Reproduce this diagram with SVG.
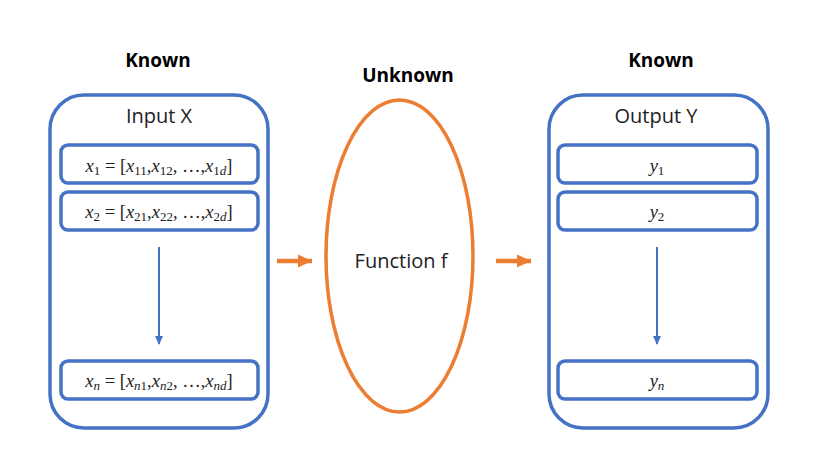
<svg xmlns="http://www.w3.org/2000/svg" width="819" height="458" viewBox="0 0 819 458">
<defs>
<style>
.big{fill:#fff;stroke:#4472C4;stroke-width:3.5}
.item{fill:#fff;stroke:#4472C4;stroke-width:3.5}
.hdr{font-family:"Open Sans","Noto Sans",sans-serif;font-weight:bold;font-size:19px;fill:#000;text-anchor:middle}
.lbl{font-family:"Open Sans","Noto Sans",sans-serif;font-size:20px;fill:#222;text-anchor:middle}
.m{font-family:"Liberation Serif","DejaVu Serif",serif;font-size:18.5px;fill:#222;text-anchor:middle}
.i{font-style:italic}
.s{font-size:13px}
.blue{stroke:#4472C4;stroke-width:2;fill:none}
.orange{stroke:#ED7D31;stroke-width:4.5;fill:none}
</style>
<marker id="ab" markerWidth="10" markerHeight="10" refX="8" refY="5" orient="auto" markerUnits="userSpaceOnUse"><path d="M0,1 L9,5 L0,9 Z" fill="#4472C4"/></marker>
<marker id="ao" markerWidth="16" markerHeight="16" refX="14" refY="8" orient="auto" markerUnits="userSpaceOnUse"><path d="M0,1.5 L14,8 L0,14.5 Z" fill="#ED7D31"/></marker>
</defs>
<rect width="819" height="458" fill="#fff"/>
<text class="hdr" x="158" y="67">Known</text>
<text class="hdr" x="408" y="82">Unknown</text>
<text class="hdr" x="661" y="67">Known</text>

<g id="input">
<rect class="big" x="50" y="95" width="218" height="333" rx="34" ry="34"/>
<text class="lbl" x="159" y="123">Input X</text>
</g>
<g id="x1">
<rect class="item" x="61" y="145" width="197" height="38" rx="7"/>
<text class="m" x="159" y="172"><tspan class="i">x</tspan><tspan class="s" dy="3">1</tspan><tspan dy="-3"> = [</tspan><tspan class="i">x</tspan><tspan class="s" dy="3">11</tspan><tspan dy="-3">,</tspan><tspan class="i">x</tspan><tspan class="s" dy="3">12</tspan><tspan dy="-3">, …,</tspan><tspan class="i">x</tspan><tspan class="s" dy="3">1<tspan class="i">d</tspan></tspan><tspan dy="-3">]</tspan></text>
</g>
<g id="x2">
<rect class="item" x="61" y="192" width="197" height="38" rx="7"/>
<text class="m" x="159" y="218"><tspan class="i">x</tspan><tspan class="s" dy="3">2</tspan><tspan dy="-3"> = [</tspan><tspan class="i">x</tspan><tspan class="s" dy="3">21</tspan><tspan dy="-3">,</tspan><tspan class="i">x</tspan><tspan class="s" dy="3">22</tspan><tspan dy="-3">, …,</tspan><tspan class="i">x</tspan><tspan class="s" dy="3">2<tspan class="i">d</tspan></tspan><tspan dy="-3">]</tspan></text>
</g>
<g id="xn">
<rect class="item" x="61" y="361" width="197" height="38" rx="7"/>
<text class="m" x="159" y="387"><tspan class="i">x</tspan><tspan class="s i" dy="3">n</tspan><tspan dy="-3"> = [</tspan><tspan class="i">x</tspan><tspan class="s" dy="3"><tspan class="i">n</tspan>1</tspan><tspan dy="-3">,</tspan><tspan class="i">x</tspan><tspan class="s" dy="3"><tspan class="i">n</tspan>2</tspan><tspan dy="-3">, …,</tspan><tspan class="i">x</tspan><tspan class="s i" dy="3">nd</tspan><tspan dy="-3">]</tspan></text>
</g>

<g id="function">
<ellipse cx="399.5" cy="256" rx="73.5" ry="156" fill="#fff" stroke="#ED7D31" stroke-width="3.5"/>
<text class="lbl" x="401" y="268">Function f</text>
</g>

<g id="output">
<rect class="big" x="549" y="95" width="219" height="333" rx="34" ry="34"/>
<text class="lbl" x="656" y="123">Output Y</text>
</g>
<g id="y1">
<rect class="item" x="558" y="145" width="199" height="38" rx="7"/>
<text class="m" x="657" y="172"><tspan class="i">y</tspan><tspan class="s" dy="3">1</tspan></text>
</g>
<g id="y2">
<rect class="item" x="558" y="192" width="199" height="38" rx="7"/>
<text class="m" x="657" y="218"><tspan class="i">y</tspan><tspan class="s" dy="3">2</tspan></text>
</g>
<g id="yn">
<rect class="item" x="558" y="361" width="199" height="38" rx="7"/>
<text class="m" x="657" y="387"><tspan class="i">y</tspan><tspan class="s i" dy="3">n</tspan></text>
</g>

<g id="connectors">
<line class="blue" x1="159" y1="247" x2="159" y2="344" marker-end="url(#ab)"/>
<line class="blue" x1="657" y1="247" x2="657" y2="344" marker-end="url(#ab)"/>
<line class="orange" x1="277" y1="261" x2="312" y2="261" marker-end="url(#ao)"/>
<line class="orange" x1="496" y1="261" x2="531" y2="261" marker-end="url(#ao)"/>
</g>
</svg>
